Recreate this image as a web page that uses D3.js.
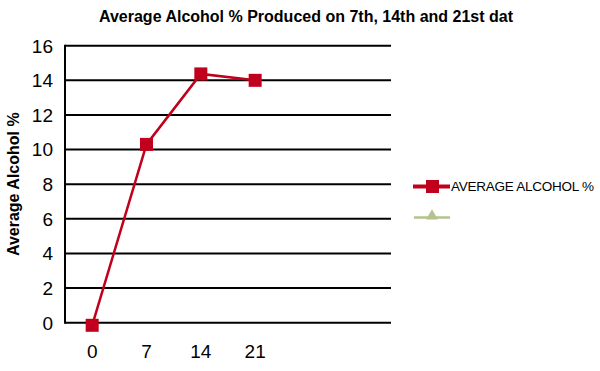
<!DOCTYPE html>
<html><head><meta charset="utf-8">
<script src="https://cdn.jsdelivr.net/npm/d3@7"></script>
<style>body{margin:0;background:#fff}svg{display:block;font-family:"Liberation Sans",Arial,sans-serif}</style>
</head><body><div id="chart"></div>
<script>
const categories = ["0","7","14","21","",""];
const days = ["0","7","14","21"];
const alcohol = [-0.15, 10.3, 14.37, 14.0];
const yTicks = [0,2,4,6,8,10,12,14,16];
const title = "Average Alcohol % Produced on 7th, 14th and 21st dat";
const yTitle = "Average Alcohol %";
const seriesName = "AVERAGE ALCOHOL %";

const W = 600, H = 371;
const m = {left:65, right:209, top:45.7, bottom:48.3};
const svg = d3.select("#chart").append("svg").attr("width",W).attr("height",H);
const x = d3.scaleBand().domain(categories.map((c,i)=>i)).range([m.left, W-m.right]);
const y = d3.scaleLinear().domain([0,16]).range([H-m.bottom, m.top]);
const red = "#C0001C", green = "#B4C28E";

// gridlines
svg.append("g").selectAll("line").data(yTicks).join("line")
  .attr("x1",m.left).attr("x2",W-m.right)
  .attr("y1",d=>y(d)).attr("y2",d=>y(d))
  .attr("stroke","#000").attr("stroke-width",2);
// y axis line
svg.append("line").attr("x1",m.left).attr("x2",m.left).attr("y1",y(16)-1).attr("y2",y(0)+1)
  .attr("stroke","#000").attr("stroke-width",2);

// y tick labels
svg.append("g").selectAll("text").data(yTicks).join("text")
  .attr("x",m.left-12).attr("y",d=>y(d)).attr("dy","0.36em")
  .attr("text-anchor","end").attr("font-size",19).attr("fill","#000").text(d=>d);
// x labels
svg.append("g").selectAll("text").data(days).join("text")
  .attr("x",(d,i)=>x(i)+x.bandwidth()/2).attr("y",358)
  .attr("text-anchor","middle").attr("font-size",19).attr("fill","#000").text(d=>d);

// title
svg.append("text").attr("x",306).attr("y",22).attr("text-anchor","middle")
  .attr("font-size",16).attr("font-weight","bold").text(title);
// y title
svg.append("text").attr("transform",`translate(19,${(y(0)+y(16))/2}) rotate(-90)`)
  .attr("text-anchor","middle").attr("font-size",16).attr("font-weight","bold").text(yTitle);

// line
const line = d3.line().x((d,i)=>x(i)+x.bandwidth()/2).y(d=>y(d));
svg.append("path").datum(alcohol).attr("d",line).attr("fill","none")
  .attr("stroke",red).attr("stroke-width",2.5);
svg.append("g").selectAll("rect").data(alcohol).join("rect")
  .attr("x",(d,i)=>x(i)+x.bandwidth()/2-6.5).attr("y",d=>y(d)-6.5)
  .attr("width",13).attr("height",13).attr("fill",red);

// legend
const lg = svg.append("g");
lg.append("line").attr("x1",413).attr("x2",450).attr("y1",186.5).attr("y2",186.5).attr("stroke",red).attr("stroke-width",4);
lg.append("rect").attr("x",426).attr("y",180).attr("width",13).attr("height",13).attr("fill",red);
lg.append("text").attr("x",451).attr("y",186.5).attr("dy","0.36em").attr("font-size",13.5).attr("letter-spacing",-0.25).text(seriesName);
lg.append("line").attr("x1",414).attr("x2",450).attr("y1",217.5).attr("y2",217.5).attr("stroke",green).attr("stroke-width",2.5);
lg.append("path").attr("d",d3.symbol(d3.symbolTriangle,60)()).attr("transform","translate(432,216)").attr("fill",green);
</script></body></html>
